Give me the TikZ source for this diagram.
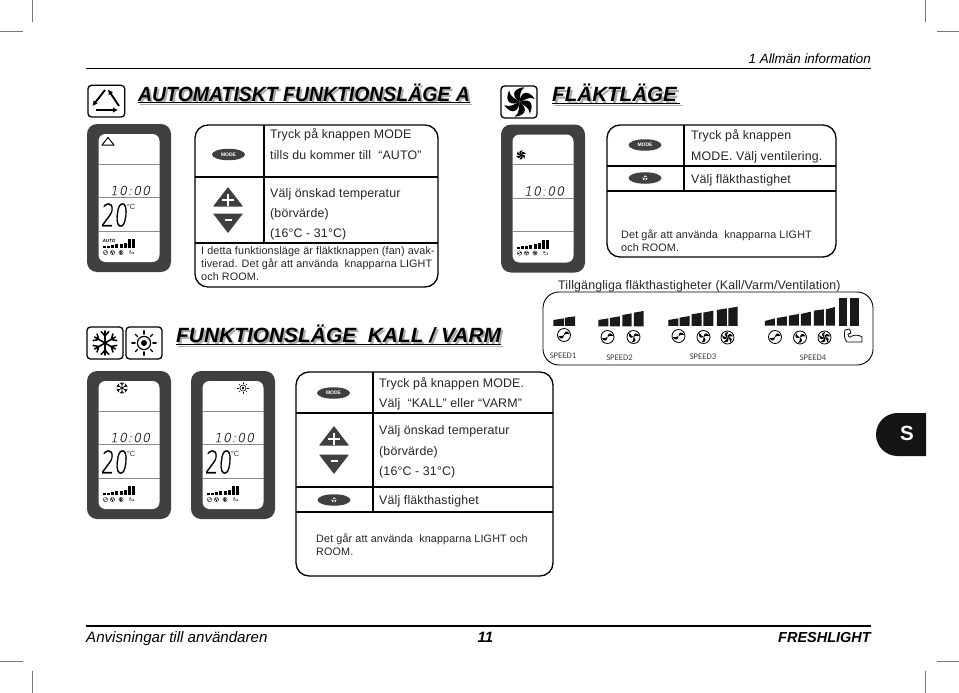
\documentclass[tikz,border=0pt]{standalone}
\usepackage{xcolor}
\usepackage{fontspec}
\usepackage{tikz}
\usetikzlibrary{arrows.meta,shapes.geometric}
\setmainfont{Liberation Sans}
\newfontfamily\tblfont[LetterSpace=1.2]{Liberation Sans}
\newfontfamily\lcdfont[FakeSlant=0.2,FakeBold=0.3,LetterSpace=8]{DejaVu Sans ExtraLight}
\newfontfamily\lcdbigfont[FakeSlant=0.12,FakeBold=0.8]{DejaVu Sans ExtraLight}
\newfontfamily\speedfont{Carlito}
\definecolor{PanelGray}{HTML}{3E4041}
\definecolor{RuleGray}{HTML}{8A8A8A}
\definecolor{TextGray}{HTML}{262626}
\definecolor{ShadowGray}{HTML}{A9ADB0}
\definecolor{CropGray}{HTML}{777777}
\newcommand{\fanblade}{(0,0) .. controls (.02,-.5) and (.45,-.95) .. (.98,-.2)
        .. controls (.62,-.38) and (.32,-.12) .. (0,0)}
\newcommand{\fanglyph}[4]{% x, y, radius, blades
  \begin{scope}[shift={(#1,#2)},scale=#3]
    \draw[line width=#3*.13pt,draw=black,fill=white] (0,0) circle (1);
    \foreach \k in {1,...,#4}{
      \fill[black,rotate=360*\k/#4,scale=.9] \fanblade;
    }
  \end{scope}}
\newcommand{\bicepglyph}[3]{% x, y, scale
  \begin{scope}[shift={(#1,#2)},scale=#3]
    \draw[line width=#3*.8pt,line join=round] (-8,-7) -- (-3.5,-8) -- (-2,-4) -- (-5,-3)
      .. controls (-5,0) and (-3,1) .. (-1,-1) .. controls (2,-2.5) and (6,-2) .. (9,0)
      -- (9,5) -- (-6,5) .. controls (-9,2) and (-9,-3) .. cycle;
  \end{scope}}
\newcommand{\snowglyph}[3]{% x, y, radius
  \begin{scope}[shift={(#1,#2)},scale=#3,line width=#3*.13pt,line cap=round]
    \foreach \a in {30,90,...,330}{
      \draw[rotate=\a] (0,0) -- (1,0) (.6,0) -- (.95,.32) (.6,0) -- (.95,-.32);
    }
  \end{scope}}
\newcommand{\sunglyph}[3]{% x, y, radius
  \begin{scope}[shift={(#1,#2)},scale=#3,line width=#3*.1pt,line cap=round]
    \draw (0,0) circle (.55);
    \fill (0,0) circle (.25);
    \foreach \a in {0,45,...,315}{
      \draw[rotate=\a] (.74,0) -- (1.02,0);
    }
  \end{scope}}
\newcommand{\lcdpanel}[2]{% x, y
  \begin{scope}[shift={(#1,#2)}]
    \fill[PanelGray,rounded corners=10] (0,0) rectangle (84,148);
    \fill[white,rounded corners=7] (11.5,10) rectangle (72.5,138);
    \draw[lcdrule] (11.5,40) -- (72.5,40);
    \draw[lcdrule] (11.5,73.5) -- (72.5,73.5);
    \draw[lcdrule] (11.5,107) -- (72.5,107);
    \node[lcdclock] (clock) at (43,66.5) {10:00};
    \foreach \i/\h in {0/1.6,1/2.4,2/3,3/3.6,4/4.4,5/5.2,6/9,7/9}{
      \fill[black] ({15.5+\i*4.25},124) rectangle ++(3,-\h);
    }
    \fanglyph{18.5}{128.5}{2.2}{2}
    \fanglyph{25.5}{128.5}{2.2}{3}
    \fanglyph{34}{128.5}{2.2}{5}
    \bicepglyph{44.5}{128.5}{.26}
  \end{scope}}
\newcommand{\lcdtemp}[2]{% x, y
  \begin{scope}[shift={(#1,#2)}]
    \node[lcdbig] (temp) at (27,91) {20};
    \node[lcdunit] (unit) at (44,82.5) {°C};
  \end{scope}}
\newcommand{\plusminus}[3]{% x, upper tip y, lower tip y
  \fill[PanelGray,rounded corners=.6] (#1,#2) -- (#1+15,#2+19.5) -- (#1-15,#2+19.5) -- cycle;
  \fill[PanelGray,rounded corners=.6] (#1,#3) -- (#1+15,#3-19.5) -- (#1-15,#3-19.5) -- cycle;
  \draw[white,line width=1.5pt] (#1-6,#2+13) -- (#1+6,#2+13) (#1,#2+7) -- (#1,#2+19);
  \draw[white,line width=2pt] (#1-3.5,#3-13) -- (#1+3.5,#3-13);}
\begin{document}
\begin{tikzpicture}[x=1pt,y=-1pt,>=Latex]
\tikzstyle{tblframe}=[draw=black,line width=1.3pt,rounded corners=13]
\tikzstyle{tblrule}=[draw=black,line width=1.1pt]
\tikzstyle{tbltxt}=[anchor=west,inner sep=0pt,text=TextGray,text height=8.5pt,text depth=0pt,
                    font=\tblfont\fontsize{12.4}{14}\selectfont]
\tikzstyle{tblnote}=[anchor=north west,inner sep=0pt,text=TextGray,align=left,
                     font=\tblfont\fontsize{10.8}{13}\selectfont]
\tikzstyle{heading}=[anchor=base west,inner sep=0pt,transform shape,font=\bfseries\itshape\fontsize{20.6}{24}\selectfont]
\tikzstyle{iconbox}=[draw=black,line width=1.3pt,rounded corners=3.5]
\tikzstyle{btn}=[ellipse,fill=PanelGray,inner sep=0pt,minimum width=33pt,minimum height=11.5pt,
                 text=white,font=\bfseries\fontsize{5}{5}\selectfont]
\tikzstyle{lcdrule}=[draw=RuleGray,line width=.7pt]
\tikzstyle{lcdclock}=[inner sep=0pt,text=black!85,font=\lcdfont\fontsize{12.5}{13}\selectfont]
\tikzstyle{lcdbig}=[inner sep=0pt,text=black,xscale=.68,transform shape,font=\lcdbigfont\fontsize{31}{31}\selectfont]
\tikzstyle{lcdunit}=[inner sep=0pt,text=black!80,font=\fontsize{7.5}{8}\selectfont]
\tikzstyle{speedtxt}=[inner sep=0pt,text=black!75,font=\speedfont\fontsize{8.6}{9}\selectfont]
\tikzstyle{crop}=[draw=CropGray,line width=.6pt]
\useasboundingbox (0,0) rectangle (959,693);
\fill[white] (0,0) rectangle (959,693);
% crop marks
\draw[crop] (32,0) -- (32,22) (0,31) -- (23,31) (925,0) -- (925,22) (937,31) -- (959,31);
\draw[crop] (32,671) -- (32,693) (0,661) -- (23,661) (925,671) -- (925,693) (937,661) -- (959,661);
% header and footer
\draw[black,line width=1.2pt] (86,68.5) -- (871,68.5);
\draw[black,line width=1.2pt] (86,626) -- (871,626);
\node[anchor=base east,inner sep=0pt,font=\itshape\fontsize{13.4}{16}\selectfont] (chapter) at (871,64) {1 Allmän information};
\node[anchor=base west,inner sep=0pt,font=\itshape\fontsize{15.1}{18}\selectfont] (footL) at (86,642) {Anvisningar till användaren};
\node[anchor=base,inner sep=0pt,font=\bfseries\itshape\fontsize{15}{18}\selectfont] (footC) at (485.5,642) {11};
\node[anchor=base east,inner sep=0pt,font=\bfseries\itshape\fontsize{14.5}{18}\selectfont] (footR) at (871,642) {FRESHLIGHT};
\fill[black!92] (926,413) -- (897.5,413) arc (-90:-270:21.5) -- (926,456) -- cycle;
\node[text=white,inner sep=0pt,font=\bfseries\fontsize{20.5}{22}\selectfont] (tabS) at (907,433.5) {S};
% automatic mode
\draw[iconbox] (88,85.3) rectangle (124.7,117);
\draw[line width=1.9pt,-{Latex[length=5pt,width=5.5pt]}] (96,110) -- (118,110);
\draw[line width=1.9pt,-{Latex[length=5pt,width=5.5pt]}] (119,106) -- (108,89.5);
\draw[line width=1.9pt,-{Latex[length=5pt,width=5.5pt]}] (105,90) -- (92.5,106);
\node[heading,xscale=.943,text=ShadowGray] (autoS) at (140,103) {\underline{AUTOMATISKT FUNKTIONSLÄGE A}};
\node[heading,xscale=.943] (autoT) at (138,101) {\underline{AUTOMATISKT FUNKTIONSLÄGE A}};
\lcdpanel{87}{124}
\lcdtemp{87}{124}
\draw[line width=1pt,line join=round] (108,137.5) -- (114,145) -- (102,145) -- cycle;
\node[inner sep=0pt,font=\bfseries\itshape\fontsize{4.5}{5}\selectfont] (autoL) at (109,240.5) {AUTO};
\draw[tblframe] (195,125) rectangle (438,287);
\draw[tblrule] (264,125) -- (264,243);
\draw[tblrule] (195,177) -- (438,177);
\draw[tblrule] (195,243) -- (438,243);
\node[btn] (modeA) at (228.5,154.5) {MODE};
\plusminus{228}{187}{233}
\node[tbltxt] (a1) at (270,134) {Tryck på knappen MODE};
\node[tbltxt] (a2) at (270,155) {tills du kommer till \ “AUTO”};
\node[tbltxt] (a3) at (270,193) {Välj önskad temperatur};
\node[tbltxt] (a4) at (270,213) {(börvärde)};
\node[tbltxt] (a5) at (270,233) {(16°C - 31°C)};
\node[tblnote] (a6) at (201,246) {I detta funktionsläge är fläktknappen (fan) avak-\\tiverad. Det går att använda \ knapparna LIGHT\\och ROOM.};
% fan mode
\draw[iconbox] (501,86) rectangle (537,118);
\foreach \k in {0,60,...,300}{
  \fill[black,shift={(519.5,102)},rotate=\k,scale=15.5] \fanblade;
}
\node[heading,text=ShadowGray] (fanS) at (554,104) {\underline{FLÄKTLÄGE\,}};
\node[heading] (fanT) at (552,102) {\underline{FLÄKTLÄGE\,}};
\lcdpanel{501}{124.5}
\foreach \k in {0,60,...,300}{
  \fill[black,shift={(521,155)},rotate=\k,scale=5] \fanblade;
}
\draw[tblframe] (607,125) rectangle (836,257);
\draw[tblrule] (684,125) -- (684,191);
\draw[tblrule] (607,166) -- (836,166);
\draw[tblrule] (607,191) -- (836,191);
\node[btn] (modeB) at (645,145) {MODE};
\node[btn] (speedB) at (645,178) {};
\fanglyph{645}{178}{3}{3}
\node[tbltxt] (b1) at (691,135) {Tryck på knappen};
\node[tbltxt] (b2) at (691,156) {MODE. Välj ventilering.};
\node[tbltxt] (b3) at (691,179) {Välj fläkthastighet};
\node[tblnote] (b4) at (621,229.5) {Det går att använda \ knapparna LIGHT\\och ROOM.};
% fan speeds
\node[tbltxt,anchor=west] (speedT) at (558,285) {Tillgängliga fläkthastigheter (Kall/Varm/Ventilation)};
\draw[draw=black,line width=.9pt,rounded corners=16] (543,292) rectangle (873,365);
\begin{scope}[shift={(545,295)},x=.3333pt,y=-.3333pt]
\foreach \xa/\xb/\ya/\yb/\yc in {25/57/75/70/93,60/90/68/64/93,
    160/190/75/70/94,195/225/69/64/94,232/260/60/55/94,267/296/53/48/94,
    370/400/75/70/93,404/434/68/63/93,440/470/58/53/93,475/505/53/47/93,516/546/45/40/93,550/578/40/35/93,
    660/690/78/70/92,696/726/69/64/92,732/762/62/57/92,768/798/57/50/92,807/837/47/43/92,843/870/43/36/92,882/907/10/10/92,915/942/10/10/92}{
  \fill[black!90] (\xa,\yc) -- (\xa,\ya) -- (\xb,\yb) -- (\xb,\yc) -- cycle;
}
\end{scope}
\fanglyph{564}{335}{6.5}{2}
\fanglyph{607.5}{337}{6.5}{2}
\fanglyph{633.5}{337}{6.5}{3}
\fanglyph{678.5}{336}{6.5}{2}
\fanglyph{703.5}{337}{6.5}{3}
\fanglyph{727.5}{337.5}{6.5}{5}
\fanglyph{775}{337}{6.5}{2}
\fanglyph{800}{337.5}{6.5}{3}
\fanglyph{824.5}{337.5}{6.5}{5}
\bicepglyph{853}{337}{1}
\node[speedtxt] (sp1) at (563,356) {SPEED1};
\node[speedtxt] (sp2) at (619.5,357.5) {SPEED2};
\node[speedtxt] (sp3) at (703,356.5) {SPEED3};
\node[speedtxt] (sp4) at (813,357.5) {SPEED4};
% cool and heat
\draw[iconbox] (87,327) rectangle (123,359);
\draw[iconbox] (126,327) rectangle (162,359);
\snowglyph{105}{343}{12}
\sunglyph{144}{343}{12}
\node[heading,xscale=1.015,text=ShadowGray] (coolS) at (178,344) {\underline{FUNKTIONSLÄGE \ KALL / VARM}};
\node[heading,xscale=1.015] (coolT) at (176,342) {\underline{FUNKTIONSLÄGE \ KALL / VARM}};
\lcdpanel{87}{371}
\lcdtemp{87}{371}
\snowglyph{122}{388}{5.5}
\lcdpanel{191}{371}
\lcdtemp{191}{371}
\sunglyph{243}{388}{5.5}
\draw[tblframe] (296,372) rectangle (553,576);
\draw[tblrule] (373,372) -- (373,512);
\draw[tblrule] (296,413) -- (553,413);
\draw[tblrule] (296,487) -- (553,487);
\draw[tblrule] (296,512) -- (553,512);
\node[btn] (modeC) at (333.5,393) {MODE};
\plusminus{334}{426}{474}
\node[btn] (speedC) at (334,500) {};
\fanglyph{334}{500}{3}{3}
\node[tbltxt] (c1) at (379,383) {Tryck på knappen MODE.};
\node[tbltxt] (c2) at (379,403) {Välj \ “KALL” eller “VARM”};
\node[tbltxt] (c3) at (379,430) {Välj önskad temperatur};
\node[tbltxt] (c4) at (379,451) {(börvärde)};
\node[tbltxt] (c5) at (379,471) {(16°C - 31°C)};
\node[tbltxt] (c6) at (379,500) {Välj fläkthastighet};
\node[tblnote] (c7) at (316,534) {Det går att använda \ knapparna LIGHT och\\ROOM.};
\end{tikzpicture}
\end{document}
